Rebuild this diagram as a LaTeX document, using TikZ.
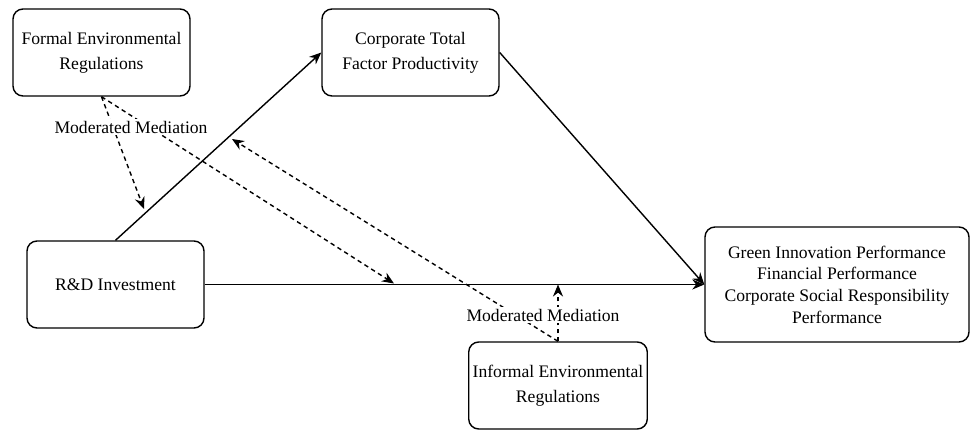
\documentclass[tikz,border=0pt]{standalone}
\usepackage{fontspec}
\setmainfont{Liberation Serif}
\usetikzlibrary{positioning,arrows.meta,calc}

\begin{document}
\begin{tikzpicture}[x=0.5pt,y=-0.5pt,>={Stealth[length=6pt,width=5pt]},line width=0.7pt,
  box/.style={draw,rounded corners=5pt,align=center,inner sep=2pt,
              font=\fontsize{8.8}{12.5}\selectfont,
              minimum width=88.5pt,minimum height=43.5pt},
  outbox/.style={box,font=\fontsize{8.8}{10.8}\selectfont,
                 minimum width=132pt,minimum height=57.5pt},
  modline/.style={->,dash pattern=on 2.2pt off 1.8pt},
  lab/.style={fill=white,inner sep=1pt,font=\fontsize{8.8}{10}\selectfont}]
\useasboundingbox (0,0) rectangle (970,429);
\node[box] (formal) at (101.5,52.5) {Formal Environmental\\Regulations};
\node[box] (tfp) at (410.5,52.5) {Corporate Total\\Factor Productivity};
\node[box] (rd) at (115.5,284.5) {R\&D Investment};
\node[outbox] (perf) at (837,284.5) {Green Innovation Performance\\Financial Performance\\
  Corporate Social Responsibility\\Performance};
\node[box] (informal) at (558,385.5) {Informal Environmental\\Regulations};
% main paths
\draw[->] (rd.north) -- (tfp.west);
\draw[->] (tfp.east) -- (perf.west);
\draw[->] (rd.east) -- (perf.west);
% moderating effects
\coordinate (m1) at (144,209);
\coordinate (m2) at (394,283.5);
\coordinate (m3) at (232,139);
\coordinate (m4) at (informal.north |- rd.east);
\draw[modline] (formal.south) -- (m1);
\draw[modline] (formal.south) -- (m2);
\draw[modline] (informal.north) -- (m3);
\draw[modline] (informal.north) -- (m4);
\node[lab] (lab1) at (131,127) {Moderated Mediation};
\node[lab] (lab2) at (543,315) {Moderated Mediation};
\end{tikzpicture}
\end{document}
